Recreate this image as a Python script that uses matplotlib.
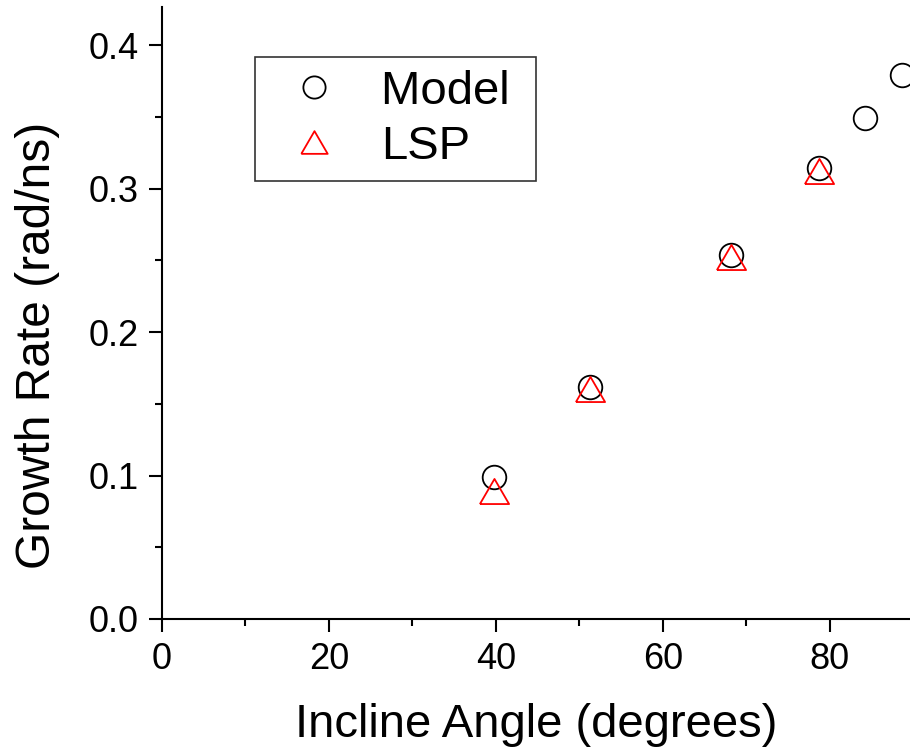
import matplotlib.pyplot as plt
from matplotlib.ticker import MultipleLocator

plt.rcParams['font.family'] = ['Liberation Sans', 'DejaVu Sans']

# Model points
model_angle = [39.8, 51.3, 68.1, 78.7, 84.2, 88.7]
model_rate = [0.099, 0.162, 0.254, 0.314, 0.349, 0.379]

# LSP points
lsp_angle = [39.8, 51.3, 68.1, 78.7]
lsp_rate = [0.089, 0.160, 0.252, 0.312]

fig = plt.figure(figsize=(9.1, 7.5), dpi=100)
ax = fig.add_axes([162 / 910, 131 / 750, 748 / 910, 612 / 750])

tri = [(-1, -0.86), (1, -0.86), (0, 0.86), (-1, -0.86)]

ax.plot(model_angle, model_rate, linestyle='none', marker='o', markersize=17,
        markerfacecolor='none', markeredgecolor='black', markeredgewidth=1.3,
        label='Model ')
ax.plot(lsp_angle, lsp_rate, linestyle='none', marker=tri, markersize=21,
        markerfacecolor='none', markeredgecolor='red', markeredgewidth=1.3,
        label='LSP')

ax.set_xlim(0, 89.6)
ax.set_ylim(0, 0.4265)
ax.xaxis.set_major_locator(MultipleLocator(20))
ax.xaxis.set_minor_locator(MultipleLocator(10))
ax.yaxis.set_major_locator(MultipleLocator(0.1))
ax.yaxis.set_minor_locator(MultipleLocator(0.05))
ax.yaxis.set_major_formatter(plt.FormatStrFormatter('%.1f'))

ax.spines['top'].set_visible(False)
ax.spines['right'].set_visible(False)
for s in ['left', 'bottom']:
    ax.spines[s].set_linewidth(1.5)

ax.tick_params(which='major', direction='out', length=9.5, width=1.5,
               labelsize=26, pad=7)
ax.tick_params(which='minor', direction='out', length=5, width=1.5)

ax.set_xlabel('Incline Angle (degrees)', fontsize=34, labelpad=19)
ax.set_ylabel('Growth Rate (rad/ns)', fontsize=34.5)
ax.yaxis.set_label_coords(60 / 910, 1 - 345 / 750, transform=fig.transFigure)

leg = ax.legend(loc='upper left', bbox_to_anchor=(255 / 910, 1 - 57 / 750),
                bbox_transform=fig.transFigure, fontsize=34, frameon=True,
                fancybox=False, edgecolor='black', borderpad=0.27,
                handletextpad=0.46, labelspacing=0.23, handlelength=1.94,
                borderaxespad=0)
leg.get_frame().set_linewidth(1.2)
leg.legend_handles[0].set_markersize(16)
leg.legend_handles[1].set_markersize(19)

fig.savefig('out.png', dpi=100)
